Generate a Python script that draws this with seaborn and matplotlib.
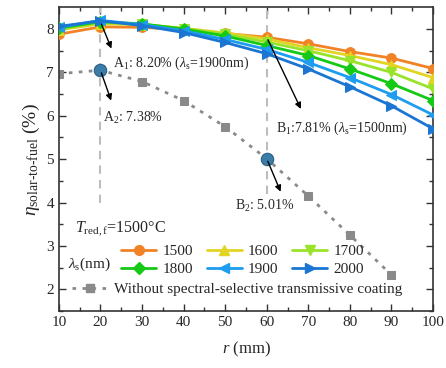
import matplotlib
matplotlib.use("Agg")
import matplotlib.pyplot as plt
import seaborn as sns
import pandas as pd
from matplotlib.lines import Line2D

# data
r = [10, 20, 30, 40, 50, 60, 70, 80, 90, 100]
eta_1500 = [7.88, 8.05, 8.04, 7.98, 7.90, 7.81, 7.66, 7.48, 7.33, 7.09]
eta_1600 = [7.98, 8.12, 8.10, 8.02, 7.91, 7.77, 7.57, 7.39, 7.18, 6.88]
eta_1700 = [8.00, 8.15, 8.11, 8.01, 7.88, 7.70, 7.50, 7.27, 7.00, 6.62]
eta_1800 = [8.02, 8.17, 8.12, 8.00, 7.84, 7.62, 7.39, 7.08, 6.74, 6.35]
eta_1900 = [8.04, 8.20, 8.10, 7.96, 7.76, 7.53, 7.23, 6.88, 6.49, 6.02]
eta_2000 = [8.06, 8.19, 8.08, 7.92, 7.69, 7.43, 7.08, 6.67, 6.23, 5.70]
r_no = [10, 20, 30, 40, 50, 60, 70, 80, 90]
eta_no = [6.97, 7.05, 6.79, 6.35, 5.75, 5.01, 4.15, 3.25, 2.33]

lams = ["1500", "1600", "1700", "1800", "1900", "2000"]
series = [eta_1500, eta_1600, eta_1700, eta_1800, eta_1900, eta_2000]
colors = ["#F28226", "#E3D322", "#9AE32B", "#16C916", "#1E9CF0", "#1A76D2"]
markers = ["o", "^", "v", "D", "<", ">"]
msizes = [7, 7, 7, 6, 7, 7]

sns.set_theme(style="ticks")
plt.rcParams["font.family"] = ["Liberation Serif", "DejaVu Serif"]
plt.rcParams["mathtext.fontset"] = "custom"
plt.rcParams["mathtext.rm"] = "Liberation Serif"
plt.rcParams["mathtext.it"] = "Liberation Serif:italic"
plt.rcParams["xtick.direction"] = "in"
plt.rcParams["ytick.direction"] = "in"

fig = plt.figure(figsize=(4.46, 3.68), dpi=100)
ax = fig.add_axes([0.132, 0.155, 0.839, 0.825])

# guide lines
ax.plot([20, 20], [3.98, 8.6], ls=(0, (4, 3)), color="#BDBDBD", lw=1.5, zorder=1)
ax.plot([60, 60], [4.2, 8.6], ls=(0, (4, 3)), color="#BDBDBD", lw=1.5, zorder=1)

handles = []
for lam, vals, c, m, ms in zip(lams, series, colors, markers, msizes):
    df = pd.DataFrame({"r": r, "eta": vals})
    sns.lineplot(data=df, x="r", y="eta", color=c, marker=m, markersize=ms,
                 markeredgecolor=c, lw=2, ax=ax, zorder=3)
    handles.append(Line2D([], [], color=c, marker=m, markersize=ms, lw=2,
                          markeredgecolor=c, label=lam))

gray = "#8A8A8A"
df_no = pd.DataFrame({"r": r_no, "eta": eta_no})
sns.lineplot(data=df_no, x="r", y="eta", color=gray, marker="s", markersize=6,
             markeredgecolor=gray, lw=2, ls=(0, (1.3, 2.3)), ax=ax, zorder=2)
h_no = Line2D([], [], color=gray, marker="s", markersize=6, lw=2,
              ls=(0, (1.3, 2.3)), label="Without spectral-selective transmissive coating")

# highlighted points
ax.scatter([20, 60], [7.05, 5.01], s=80, color="#3B7DA8", edgecolor="#2A5F85",
           linewidth=0.8, zorder=5)

arrow = dict(arrowstyle="-|>", color="black", lw=1, mutation_scale=9)
ax.annotate("", xy=(22.9, 7.49), xytext=(20, 8.17), arrowprops=arrow, zorder=6)
ax.annotate("", xy=(22.8, 6.29), xytext=(20, 7.05), arrowprops=arrow, zorder=6)
ax.annotate("", xy=(68.5, 6.1), xytext=(60, 7.81), arrowprops=arrow, zorder=6)
ax.annotate("", xy=(63.6, 4.19), xytext=(60, 5.01), arrowprops=arrow, zorder=6)

fs = 10
ax.text(23.0, 7.22, r"A$_1$: 8.20% ($\lambda_\mathrm{s}$=1900nm)", fontsize=fs, va="center")
ax.text(20.6, 5.95, r"A$_2$: 7.38%", fontsize=fs, va="center")
ax.text(62.2, 5.72, r"B$_1$:7.81% ($\lambda_\mathrm{s}$=1500nm)", fontsize=fs, va="center")
ax.text(52.3, 3.91, r"B$_2$: 5.01%", fontsize=fs, va="center")
ax.text(13.9, 3.4, r"$T_\mathrm{red,f}$=1500°C", fontsize=11.5, va="center")
ax.text(12.1, 2.57, r"$\lambda_\mathrm{s}$(nm)", fontsize=11, va="center")

# legend rows: 1500 1600 1700 / 1800 1900 2000 (matplotlib fills by column)
order = [0, 3, 1, 4, 2, 5]
leg1 = ax.legend(handles=[handles[i] for i in order], ncol=3, loc="upper left",
                 bbox_to_anchor=(0.15, 0.24), frameon=False, fontsize=11,
                 handlelength=2.3, columnspacing=0.9, handletextpad=0.4,
                 labelspacing=0.3, borderaxespad=0)
ax.add_artist(leg1)
ax.legend(handles=[h_no], loc="upper left", bbox_to_anchor=(0.02, 0.115),
          frameon=False, fontsize=11, handlelength=2.3, handletextpad=0.4,
          borderaxespad=0)

ax.set_xlim(10, 100)
ax.set_ylim(1.5, 8.5)
ax.set_xticks(range(10, 101, 10))
ax.set_xticks(range(15, 100, 10), minor=True)
ax.set_yticks([2, 3, 4, 5, 6, 7, 8])
ax.set_yticks([1.5, 2.5, 3.5, 4.5, 5.5, 6.5, 7.5], minor=True)
ax.tick_params(which="both", top=True, right=True, color="#333333", labelsize=11)
ax.tick_params(which="major", length=5, width=1)
ax.tick_params(which="minor", length=3, width=1)
for s in ax.spines.values():
    s.set_color("#333333")
    s.set_linewidth(1.2)

ax.set_xlabel(r"$r$ (mm)", fontsize=12, labelpad=8)
ax.set_ylabel(r"$\eta_\mathrm{solar\text{-}to\text{-}fuel}$ (%)", fontsize=14, labelpad=3)

fig.savefig("out.png", dpi=100)
